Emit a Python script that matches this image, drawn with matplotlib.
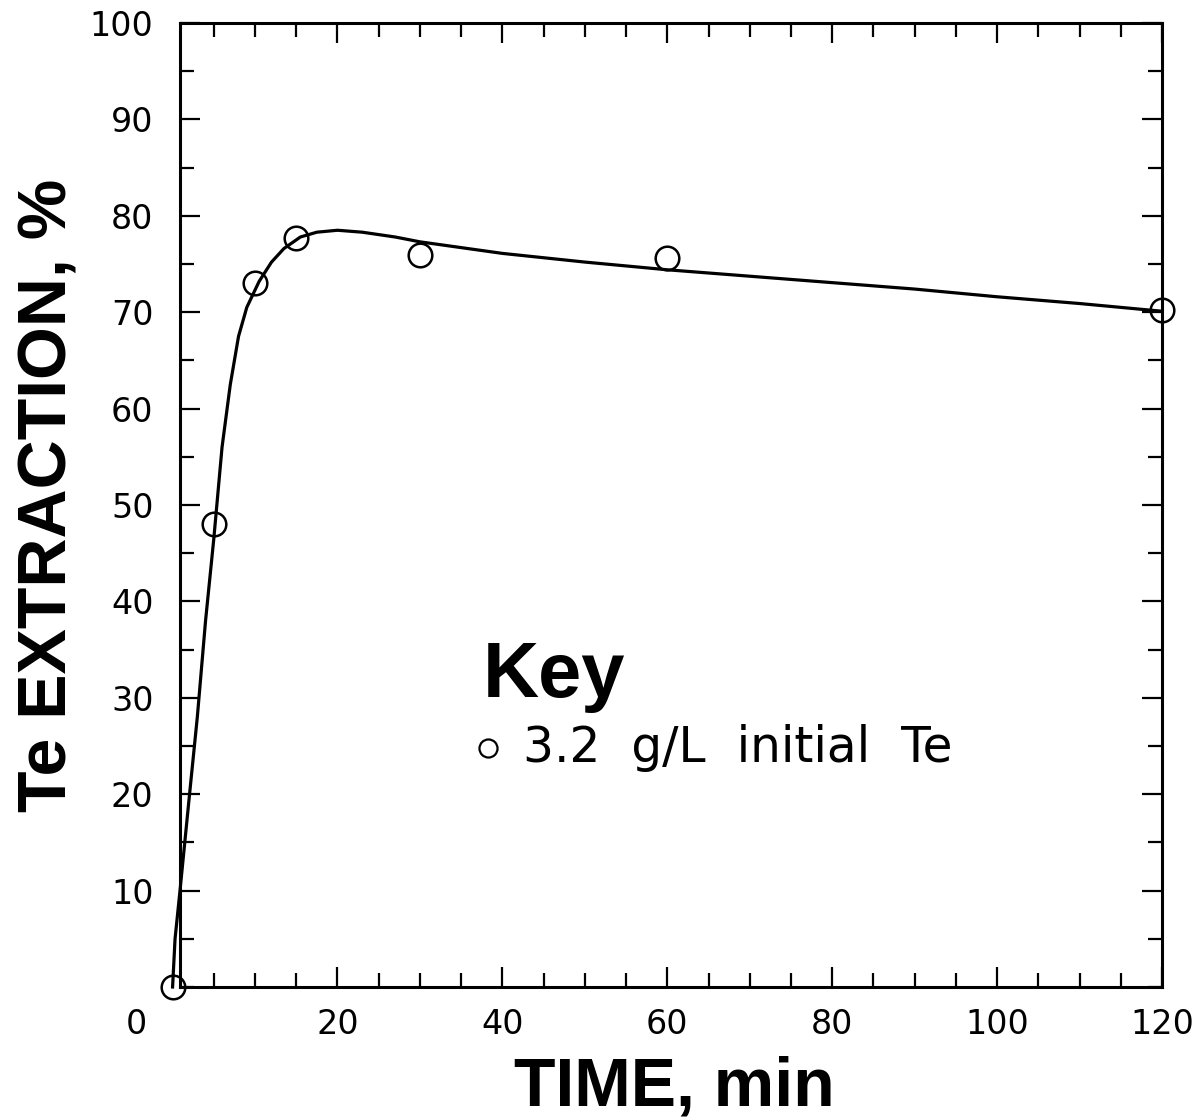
import matplotlib
matplotlib.use("Agg")
import matplotlib.pyplot as plt
from matplotlib.ticker import MultipleLocator, FixedLocator

# measured points
time_min = [0, 5, 10, 15, 30, 60, 120]
te_extraction = [0, 48, 73, 77.7, 75.9, 75.6, 70.2]

# fitted curve
fit_t = [0, 0.3, 0.9, 2, 3, 4, 5, 6, 7, 8, 9, 10.5, 12, 13.5, 15.5, 17.5, 20,
         23, 27, 30, 35, 40, 50, 60, 75, 90, 100, 110, 120]
fit_y = [0, 5, 10, 19.5, 28, 38, 46.5, 56, 62.5, 67.5, 70.5, 73.2, 75.2, 76.6,
         77.8, 78.3, 78.5, 78.3, 77.8, 77.3, 76.7, 76.1, 75.2, 74.4, 73.4,
         72.4, 71.6, 70.9, 70.1]

x_major = [20, 40, 60, 80, 100, 120]
y_major = [10, 20, 30, 40, 50, 60, 70, 80, 90, 100]
key_label = "3.2  g/L  initial  Te"

fig = plt.figure(figsize=(12.04, 11.2), dpi=100)
ax = fig.add_axes([180/1204, 133/1120, 982/1204, 964/1120])

ax.plot(fit_t, fit_y, color="black", lw=2.3, clip_on=False, zorder=2)
ax.plot(time_min, te_extraction, "o", ms=17, mfc="none", mec="black",
        mew=1.8, clip_on=False, zorder=3)

ax.set_xlim(0.9, 120)
ax.set_ylim(0, 100)
ax.xaxis.set_major_locator(FixedLocator(x_major))
ax.xaxis.set_minor_locator(MultipleLocator(5))
ax.yaxis.set_major_locator(FixedLocator(y_major))
ax.yaxis.set_minor_locator(MultipleLocator(5))

for s in ax.spines.values():
    s.set_linewidth(2.2)

ax.tick_params(which="both", direction="in", top=True, right=True,
               labeltop=False, labelright=False, width=1.6)
ax.tick_params(which="major", length=14.5, labelsize=24)
ax.tick_params(which="minor", length=10)
ax.tick_params(axis="x", which="major", pad=15)
ax.tick_params(axis="y", which="major", pad=19)

# the lone "0" in the corner
ax.annotate("0", xy=(-4.4, 0), xycoords=("data", "axes fraction"),
            xytext=(0, -15), textcoords="offset points", ha="center",
            va="top", fontsize=24, annotation_clip=False)

bold = dict(family="Liberation Sans", weight="bold")
fig.text(674/1204, 1 - 1105/1120, "TIME, min", ha="center", va="baseline",
         fontsize=49, **bold)
fig.text(67/1204, 1 - 495/1120, "Te EXTRACTION, %", ha="center",
         va="baseline", rotation=90, rotation_mode="anchor", fontsize=49,
         **bold)

# key
ax.text(0.3086, 0.301, "Key", transform=ax.transAxes, ha="left",
        va="baseline", fontsize=56, **bold)
ax.plot([0.3136], [0.248], "o", ms=13, mfc="none", mec="black", mew=1.6,
        transform=ax.transAxes)
ax.text(0.349, 0.2334, key_label, transform=ax.transAxes, ha="left",
        va="baseline", fontsize=35)

fig.savefig("out.png", dpi=100)
